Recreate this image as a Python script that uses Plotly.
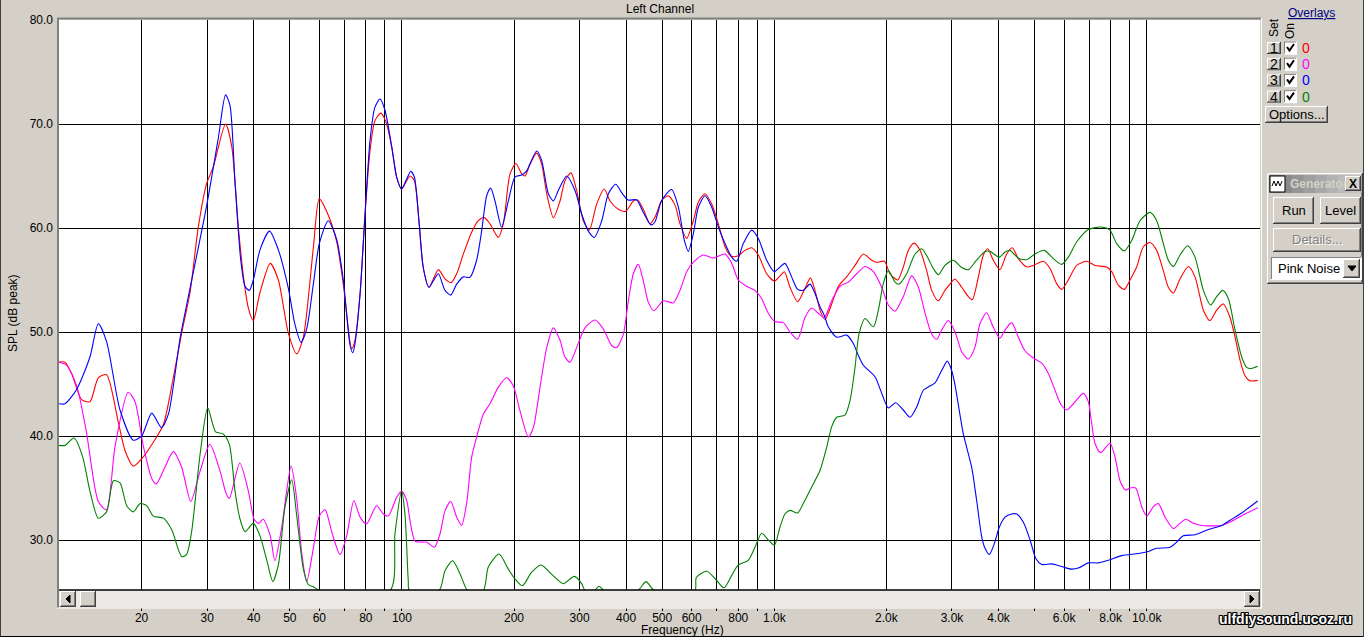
import math
import plotly.graph_objects as go

# ---- overlay curves (frequency in Hz, SPL in dB) ----
FLOOR = 25.15  # curves are clipped at the bottom of the graph

red_freq = [12.0, 12.45, 12.98, 13.8, 14.53, 15.3, 16.1, 17.32, 18.05, 19.0,
            20.0, 21.5, 22.88, 24.33, 25.62, 26.98, 28.4, 29.85, 31.16, 33.6,
            34.9, 36.37, 37.52, 38.7, 39.9, 41.58, 44.3, 46.58, 49.55, 52.2,
            54.37, 57.83, 60.0, 63.4, 66.8, 69.6, 73.3,
            74.8, 77.2, 79.6, 82.1, 84.6, 87.7, 90.4, 93.9, 96.8, 99.8,
            105.1, 108.0, 111.1, 114.1, 118.2, 125.3, 130.5, 135.5, 140.3, 146.2,
            153.9, 160.4, 166.4, 172.4, 181.5, 187.2, 195.1, 202.4, 209.7, 214.1,
            220.8, 230.1, 237.3, 244.8, 255.1, 265.8, 274.1, 284.5, 294.6, 307.0,
            318.6, 333.4, 349.5, 362.0, 381.1, 398.9, 418.2, 429.5, 444.9, 463.7,
            478.3, 498.4, 519, 541.2, 558.1, 581.6, 606.1, 625.2, 651.6, 679.0,
            707.6, 737.4, 765.2, 797, 834.2, 869.6, 905.8, 953.8, 1000, 1036,
            1064, 1102, 1155, 1209, 1250, 1286, 1327, 1368, 1426, 1486,
            1564, 1647, 1734, 1826, 1883, 1975, 2045, 2144, 2220, 2290,
            2372, 2462, 2565, 2646, 2756, 2872, 2994,
            3057, 3186, 3319, 3402, 3531, 3642, 3740, 3873, 4036, 4207,
            4357, 4522, 4761, 4961, 5278, 5500, 5731, 5909, 6158, 6484,
            6899, 7262, 7807, 8052, 8390, 8708, 9018, 9397, 9793, 10205,
            10635, 11082, 11430, 11790, 12285, 12940, 13480, 14195, 14790, 15410,
            16060, 16740, 17265, 17807, 18360, 18945, 19860]
red_db = [47.1, 47.1, 46.0, 43.5, 43.3, 45.6, 45.9, 41.3, 38.6, 37.1,
          37.8, 39.4, 41.1, 45.6, 49.9, 53.8, 60.1, 64.2, 65.9, 70.0,
          67.9, 60.1, 55.4, 52.3, 51.1, 53.8, 56.6, 55.0, 49.9, 47.9,
          49.5, 58.1, 62.8, 61.25, 58.7, 54.6, 48.4,
          49.2, 53.65, 61.3, 67.4, 70.3, 71.05, 70.3, 67.8, 64.9, 63.75,
          65.0, 64.55, 60.7, 56.2, 54.3, 56.0, 55.1, 54.75, 55.6, 57.5,
          59.6, 60.7, 61.0, 60.4, 59.1, 60.4, 65.2, 66.2, 65.2, 65.0,
          66.15, 67.2, 66.15, 63.3, 61.0, 62.6, 64.55, 65.3, 63.6, 60.7,
          59.8, 62.3, 63.75, 62.6, 61.8, 61.6, 62.6, 62.7, 61.8, 60.4,
          61.05, 62.65, 63.1, 62.2, 60.4, 59.0, 60.7, 62.5, 63.3, 62.3,
          60.4, 58.2, 57.3, 57.3, 57.85, 58.1, 57.4, 55.6, 54.9, 55.4,
          55.8, 54.3, 52.9, 54.2, 55.2, 54.0, 52.1, 51.2, 52.7, 54.4,
          55.3, 56.4, 57.5, 56.9, 56.7, 56.8, 55.6, 55.0, 56.25, 57.85,
          58.55, 57.85, 55.9, 54.0, 53.0, 54.0, 54.8,
          55.1, 54.3, 53.4, 53.1, 55.3, 57.4, 58.0, 56.9, 56.0, 57.5,
          58.1, 57.05, 56.25, 56.4, 56.8, 56.1, 54.65, 54.1, 55.0, 56.4,
          56.8, 56.4, 56.25, 55.8, 54.5, 54.1, 55.0, 56.25, 58.2, 58.6,
          57.85, 55.9, 54.3, 53.75, 55.1, 56.3, 55.3, 52.1, 51.1, 52.1,
          52.7, 51.4, 49.5, 47.3, 45.8, 45.3, 45.35]

magenta_freq = [12.0, 12.59, 13.39, 14.2, 15.3, 16.1, 16.97, 18.4, 19.2, 20.22,
                21.3, 21.9, 23.1, 24.33, 25.62, 27.1, 28.7, 30.5, 32.5, 33.7,
                34.4, 36.7, 38.7, 40.1, 41.2, 42.4, 44.3, 45.6, 47.5, 50.4,
                52.2, 53.8, 55.5, 57.83, 60.0, 62.2, 64.78, 68.2, 71.07, 74.3,
                77.2, 80.4, 85.5, 89.2, 91.9, 96.8, 99.8, 103.0, 105.1, 108.4,
                113, 116.5, 122.2, 126.6, 130.5, 135.2, 140.3, 144.6, 149.2, 153.9,
                158.7, 165.4, 172.4, 181.5, 191.1, 199.2, 207.6, 218.6, 225.4, 234.9,
                244.8, 255.1, 265.8, 274.1, 282.7, 294.6, 310.2, 330, 347.3, 365.8,
                377.3, 393.2, 405.5, 418.2, 431.3, 444.9, 458.9, 475.2,
                503.5, 535.6, 558.1, 581.6, 606.1, 644.9, 685.9, 737, 768.4, 800.6,
                842.8, 887.4, 924.7, 963.6, 1004, 1057, 1102, 1155, 1209, 1260,
                1313, 1362, 1426, 1501, 1580, 1664, 1752, 1845, 1943, 2024,
                2109, 2220, 2338, 2437, 2540, 2646, 2729, 2814, 2934,
                3057, 3186, 3319, 3458, 3566, 3717, 3873, 4036, 4165, 4339,
                4522, 4712, 4961, 5224, 5443, 5672, 5888, 6097, 6353, 6759,
                6969, 7116, 7262, 7521, 7969, 8218, 8478, 8780, 9018, 9340,
                9694, 10000, 10420, 10750, 11200, 11790, 12285, 12725, 13340, 14050,
                15890, 16910, 18360, 19860]
magenta_db = [47.1, 46.8, 44.8, 40.5, 33.7, 32.9, 39.0, 44.2, 43.3, 39.0,
              35.9, 35.4, 37.0, 38.5, 37.0, 33.7, 36.6, 39.2, 36.6, 34.5,
              34.0, 37.4, 34.7, 32.0, 31.6, 32.0, 30.4, 28.0, 31.1, 37.1,
              33.9, 28.8, 26.0, 29.2, 32.3, 32.9, 30.8, 28.6, 30.4, 33.8,
              32.2, 31.55, 33.3, 32.5, 32.3, 34.1, 34.7, 33.8, 31.9, 29.9,
              29.8, 29.8, 29.3, 30.6, 32.8, 33.7, 32.2, 31.4, 33.5, 37.95,
              39.9, 42.1, 43.1, 44.7, 45.6, 44.8, 42.4, 39.9, 40.8, 44.7,
              48.5, 50.4, 49.2, 47.6, 47.1, 48.5, 50.4, 51.15, 50.3, 48.7,
              48.5, 49.8, 53.0, 55.6, 56.5, 54.9, 52.85, 52.05,
              53.0, 52.8, 54.0, 55.8, 56.7, 57.4, 57.1, 57.5, 56.6, 55.0,
              54.4, 54.0, 53.2, 51.8, 51.0, 50.9, 50.0, 49.3, 51.4, 52.3,
              51.8, 51.4, 53.0, 54.4, 54.8, 55.6, 56.3, 55.8, 54.3, 52.6,
              52.0, 53.4, 55.4, 54.3, 51.8, 49.8, 49.3, 50.2, 51.1,
              50.0, 48.1, 47.4, 48.55, 50.8, 51.85, 50.45, 49.4, 50.2, 50.9,
              49.5, 48.2, 47.5, 47.0, 46.0, 44.4, 43.0, 42.5, 43.1, 44.1,
              43.3, 41.2, 39.3, 38.4, 39.3, 38.0, 35.7, 34.8, 35.0, 35.0,
              33.2, 32.3, 33.2, 33.5, 32.2, 31.1, 31.6, 32.0, 31.6, 31.4,
              31.4, 31.8, 32.5, 33.1]

blue_freq = [12.0, 12.45, 13.39, 14.53, 15.3, 16.1, 17.5, 19.0, 20.0, 21.3, 22.6,
             23.6, 25.4, 26.98, 29.85, 32.15, 33.6, 34.54, 35.63, 36.9, 37.91,
             38.94, 39.9, 41.58, 44.1, 46.58, 49.55, 51.63, 53.6, 55.5, 57.83,
             60.0, 63.4, 66.8, 69.6, 72.55, 73.8,
             74.8, 77.2, 79.6, 82.1, 84.6, 87.3, 90.1, 93.9, 96.8, 99.8,
             103.0, 105.6, 108.0, 111.1, 114.1, 118.2, 121.4, 125.3, 130.5, 135.2,
             140.3, 146.2, 152.3, 158.7, 163.7, 168.9, 173.1, 177.8, 185.2, 193.1,
             201.2, 209.7, 216.3, 230.1, 237.3, 247.3, 255.1, 263.0, 277, 291.6,
             303.9, 316.7, 328.6, 344.0, 358.4, 375, 389.1, 405, 427.0, 444.9,
             466.6,
             478.3, 498.4, 530, 552.5, 573.4, 587.6, 606.1, 625.2, 651.6, 679.0,
             707.6, 737.4, 768.4, 792.4, 825.6, 869.6, 905.8, 953.8, 1000, 1025,
             1068, 1113, 1155, 1196, 1247, 1286, 1327, 1362, 1396, 1471,
             1564, 1630, 1681, 1734, 1864, 1943, 2024, 2117, 2220, 2314,
             2412, 2513, 2618, 2701, 2814, 2915, 2994,
             3057, 3218, 3388, 3494, 3605, 3680, 3779, 3897, 4021, 4165,
             4339, 4476, 4664, 4861, 5042, 5224, 5558, 5909, 6262, 6551,
             6969, 7416, 7887, 8566, 9496, 10100, 10635, 11548, 12033, 12539,
             13480, 14640, 15900, 16740, 17990, 19860]
blue_db = [43.1, 43.1, 44.5, 47.6, 50.8, 49.1, 42.5, 39.6, 40.0, 42.2, 40.8,
           42.1, 49.5, 54.2, 62.0, 68.7, 72.8, 71.8, 64.4, 57.0, 54.4,
           54.0, 55.0, 57.9, 59.7, 57.9, 54.2, 50.7, 49.0, 50.3, 54.6,
           58.5, 60.7, 58.9, 55.0, 48.75, 48.0,
           48.85, 53.65, 61.3, 68.4, 71.6, 72.4, 71.3, 67.8, 64.9, 63.75,
           64.7, 65.45, 64.9, 60.7, 56.2, 54.3, 54.9, 55.6, 54.0, 53.55,
           54.6, 55.3, 55.25, 56.9, 59.7, 63.1, 63.85, 62.6, 60.1, 62.6,
           64.9, 65.1, 65.5, 67.4, 66.5, 63.3, 62.6, 63.6, 65.0, 63.6,
           61.35, 59.7, 59.1, 60.7, 63.3, 64.2, 63.4, 62.7, 62.7, 61.5,
           60.3,
           60.6, 62.65, 63.7, 62.0, 58.8, 57.75, 59.45, 62.0, 63.1, 62.0,
           60.1, 58.5, 57.2, 56.8, 58.5, 59.8, 59.0, 56.9, 55.8, 56.1,
           56.6, 55.3, 54.1, 54.0, 54.6, 53.7, 52.4, 51.6, 50.5, 49.5,
           49.7, 48.9, 47.75, 46.8, 45.7, 44.1, 42.7, 43.2, 42.5, 41.8,
           42.8, 44.4, 44.8, 45.1, 46.3, 47.2, 46.3,
           44.9, 40.2, 37.0, 33.8, 30.3, 29.2, 28.6, 29.65, 31.25, 32.2,
           32.5, 32.5, 31.7, 30.0, 28.2, 27.65, 27.7, 27.45, 27.2, 27.3,
           27.8, 27.8, 28.05, 28.5, 28.7, 28.9, 29.2, 29.3, 29.8, 30.4,
           30.5, 31.0, 31.4, 31.9, 32.6, 33.75]

green_freq = [12.0, 12.45, 13.17, 13.89, 14.53, 15.3, 16.1, 16.8, 17.5, 18.24,
              19.0, 19.81, 20.63, 21.5, 22.88, 24.08, 25.62, 26.4, 27.25, 28.7,
              30.1, 31.6, 33.1, 34.4, 35.63, 36.7, 37.91, 39.9, 41.58, 43.4,
              45.0, 46.58, 48.5, 50.6, 52.2, 54.37, 56.1, 57.83, 59.0, 60.0,
              92.9, 95.8, 99.8, 101.9, 104.0, 104.7, 125.8, 130.5, 136.9, 144.6,
              150.1, 165.4, 170.6, 182.3, 193.1, 201.2, 210.6, 223.1, 236.4, 252.5,
              271.2, 290.4, 303.9, 310.2, 328.6, 338.2, 349.5, 429.5, 452.4, 476.2,
              612, 617.2, 658, 693, 732.6, 768.4, 800.6, 851.5, 887.4, 924.7,
              963.6, 1000, 1036, 1068, 1102, 1155, 1196, 1260, 1327, 1382,
              1426, 1471, 1548, 1597, 1647, 1688, 1752, 1845, 1903, 1962,
              2024, 2109, 2161, 2267, 2387, 2487, 2592, 2673, 2756, 2872,
              3012,
              3057, 3186, 3319, 3494, 3680, 3795, 4021, 4165, 4295, 4522,
              4761, 5012, 5311, 5615, 5909, 6158, 6484, 6969, 7568, 7969,
              8305, 8708, 9112, 9594, 10205, 10635, 11082, 11430, 11790, 12285,
              12880, 13480, 14195, 14850, 15410, 16000, 16570, 17265, 17990, 18550,
              19130, 19860]
green_db = [39.1, 39.1, 39.8, 38.0, 34.7, 32.1, 32.7, 35.7, 35.5, 33.3,
            32.7, 33.5, 33.3, 32.3, 32.1, 31.0, 28.4, 28.6, 30.8, 38.2,
            42.7, 40.4, 40.2, 39.2, 34.7, 32.1, 30.8, 31.6, 30.4, 28.0,
            26.0, 27.6, 33.1, 35.8, 32.3, 27.2, 25.7, 25.5, 25.3, FLOOR,
            FLOOR, 30.6, 34.7, 32.5, 26.1, FLOOR, FLOOR, 27.05, 28.0, 26.4,
            FLOOR, FLOOR, 27.4, 28.65, 27.2, 26.25, 25.6, 26.9, 27.6, 26.7,
            25.8, 26.5, 25.8, FLOOR, FLOOR, 25.55, FLOOR, FLOOR, 26.0, FLOOR,
            FLOOR, 26.4, 27.0, 26.3, 25.4, 26.6, 27.6, 28.05, 29.3, 30.65,
            30.0, 29.5, 31.25, 32.5, 32.85, 32.6, 33.5, 35.1, 36.7, 38.9,
            40.9, 41.8, 42.0, 43.4, 46.6, 49.8, 51.3, 50.5, 52.1, 54.65,
            55.9, 54.8, 54.6, 55.6, 57.5, 58.0, 57.05, 56.1, 55.5, 56.4,
            56.9,
            56.8, 56.2, 56.0, 56.9, 57.75, 57.75, 57.2, 57.7, 57.85, 57.1,
            56.95, 57.5, 57.85, 57.05, 56.5, 57.2, 58.65, 59.85, 60.1, 59.8,
            58.5, 57.8, 58.8, 60.7, 61.5, 60.7, 58.5, 56.9, 56.3, 57.4,
            58.3, 57.2, 54.0, 52.6, 53.4, 54.0, 53.2, 50.2, 47.6, 46.6,
            46.5, 46.7]

grid_freqs = [20, 30, 40, 50, 60, 70, 80, 90, 100, 200, 300, 400, 500, 600, 700,
              800, 900, 1000, 2000, 3000, 4000, 5000, 6000, 7000, 8000, 9000, 10000]
grid_labels = ["20", "30", "40", "50", "60", "", "80", "", "100", "200", "300", "400",
               "500", "600", "", "800", "", "1.0k", "2.0k", "3.0k", "4.0k", "",
               "6.0k", "", "8.0k", "", "10.0k"]
db_ticks = [30, 40, 50, 60, 70, 80]
db_labels = ["30.0", "40.0", "50.0", "60.0", "70.0", "80.0"]

series = [("1", red_freq, red_db, "#FF0000"),
          ("2", magenta_freq, magenta_db, "#FF00FF"),
          ("3", blue_freq, blue_db, "#0000FF"),
          ("4", green_freq, green_db, "#008000")]
for name, f, d, c in series:
    assert len(f) == len(d), (name, len(f), len(d))

FONT = "Liberation Sans, Arial, sans-serif"
FACE = "#D4D0C8"

# window-pixel helpers: the graph area spans x 59..1260 and y 20..607
L, R, T, B = 59, 1260, 20, 607
W, H = R - L, B - T


def X(p):
    return (p - L) / W


def Y(p):
    return (B - p) / H


shapes = []
annotations = []


def rect(x0, y0, x1, y1, fill, line=None, layer="above"):
    shapes.append(dict(type="rect", xref="paper", yref="paper",
                       x0=X(x0), x1=X(x1), y0=Y(y1), y1=Y(y0), layer=layer,
                       fillcolor=fill,
                       line=dict(width=0) if line is None else dict(color=line, width=1)))


def seg(x0, y0, x1, y1, color, width=1):
    shapes.append(dict(type="line", xref="paper", yref="paper",
                       x0=X(x0), x1=X(x1), y0=Y(y0), y1=Y(y1), layer="above",
                       line=dict(color=color, width=width)))


def path(points, color, width=1, fill=None):
    d = "M " + " L ".join(f"{X(a):.5f},{Y(b):.5f}" for a, b in points)
    if fill:
        d += " Z"
    shapes.append(dict(type="path", xref="paper", yref="paper", path=d, layer="above",
                       line=dict(color=color, width=width),
                       fillcolor=fill if fill else "rgba(0,0,0,0)"))


def raised(x0, y0, x1, y1):
    rect(x0, y0, x1, y1, FACE)
    seg(x0, y0 + 0.5, x1, y0 + 0.5, "white")
    seg(x0 + 0.5, y0, x0 + 0.5, y1, "white")
    seg(x0, y1 - 0.5, x1, y1 - 0.5, "#404040")
    seg(x1 - 0.5, y0, x1 - 0.5, y1, "#404040")
    seg(x0 + 1, y1 - 1.5, x1 - 1, y1 - 1.5, "#808080")
    seg(x1 - 1.5, y0 + 1, x1 - 1.5, y1 - 1, "#808080")


def sunken(x0, y0, x1, y1, fill="white"):
    rect(x0, y0, x1, y1, fill)
    seg(x0, y0 + 0.5, x1, y0 + 0.5, "#808080")
    seg(x0 + 0.5, y0, x0 + 0.5, y1, "#808080")
    seg(x0, y1 - 0.5, x1, y1 - 0.5, "white")
    seg(x1 - 0.5, y0, x1 - 0.5, y1, "white")


def text(x, y, s, size=12, color="black", xanchor="center", angle=0, bold=False, shadow=None):
    fnt = dict(family=FONT, size=size, color=color)
    if bold:
        fnt["weight"] = "bold"
    if shadow:
        fnt["shadow"] = shadow
    annotations.append(dict(x=X(x), y=Y(y), xref="paper", yref="paper", text=s,
                            showarrow=False, xanchor=xanchor, yanchor="middle",
                            textangle=angle, font=fnt))


fig = go.Figure()
for name, f, d, c in series:
    fig.add_trace(go.Scatter(x=f, y=d, mode="lines", name=name, hoverinfo="skip",
                             line=dict(color=c, width=1.1, shape="spline", smoothing=0.7)))

# graph frame
seg(L - 2, T - 1.5, R + 1, T - 1.5, "#808080", 2)
seg(L - 1, T - 2, L - 1, B + 1, "#808080", 2)
seg(R + 1.5, T - 2, R + 1.5, B + 1.5, "white", 1)
seg(L - 2, B + 1, R + 2, B + 1, "white", 1)

# scrollbar along the bottom of the graph
rect(L, 590, R, B, "#ECEAE6")
seg(L, 590, R, 590, "black", 1.5)
raised(L + 1, 591, L + 17, B)
path([(L + 11, 595), (L + 11, 603), (L + 7, 599)], "black", 1, "black")
raised(L + 21, 591, L + 37, B)
raised(R - 16, 591, R, B)
path([(R - 10, 595), (R - 10, 603), (R - 6, 599)], "black", 1, "black")

# window border
seg(0.5, 0, 0.5, 637, "#404040")
seg(0, 636.5, 1364, 636.5, "black")
seg(1363.5, 0, 1363.5, 637, "#404040")

# titles
text(660, 9, "Left Channel")
text(682, 630, "Frequency (Hz)")
text(13, 313, "SPL (dB peak)", angle=-90)

# overlays panel
text(1311, 13, "<u>Overlays</u>", color="#000080")
text(1274, 28, "Set", angle=-90)
text(1290, 31, "On", angle=-90)
for i, (name, f, d, c) in enumerate(series):
    yc = 48 + 16.2 * i
    raised(1267, yc - 6, 1281, yc + 6)
    text(1274, yc, name, size=14)
    sunken(1284, yc - 6.5, 1297, yc + 6.5)
    path([(1287, yc - 1), (1289.5, yc + 2.5), (1294, yc - 4)], "black", 2)
    text(1306, yc, "0", size=14, color=c)
raised(1265, 106, 1328, 123)
text(1296.5, 114.5, "Options...", size=13)

# generator panel
raised(1267, 173, 1363, 284)
steps = ["#808080", "#8A8A8A", "#949494", "#9E9E9E", "#A8A8A8", "#B2B2B2", "#BCBCBC", "#C4C4C4"]
bx0, bx1 = 1269, 1361
for k, col in enumerate(steps):
    rect(bx0 + (bx1 - bx0) * k / len(steps), 175, bx0 + (bx1 - bx0) * (k + 1) / len(steps) + 0.5, 193, col)
rect(1270, 176, 1285, 192, "white", "black")
path([(1272, 186), (1274, 181), (1276, 186), (1278, 181), (1280, 186), (1282, 181)], "black", 1)
text(1288, 184, "Generator", color=FACE, xanchor="left", bold=True)
raised(1345, 176, 1361, 191)
text(1353, 183.5, "X", bold=True)
raised(1273, 197, 1314, 224)
text(1293.5, 210.5, "Run", size=13)
raised(1320, 197, 1361, 224)
text(1340.5, 210.5, "Level", size=13)
raised(1273, 228, 1361, 252)
text(1317, 240, "Details...", size=13, color="#808080", shadow="1px 1px 0px #FFFFFF")
sunken(1271, 257, 1362, 280)
rect(1273, 259, 1360, 278, "white")
text(1276, 268.5, "Pink Noise", size=13, xanchor="left")
raised(1343, 259, 1360, 278)
path([(1348, 266), (1356, 266), (1352, 271)], "black", 1, "black")

# site watermark
text(1354, 619, "ulfdiysound.ucoz.ru", size=14, color="white", xanchor="right", bold=True,
     shadow="1px 0 0 #000, -1px 0 0 #000, 0 1px 0 #000, 0 -1px 0 #000, "
            "1px 1px 0 #000, -1px -1px 0 #000, 1px -1px 0 #000, -1px 1px 0 #000")

x_lo = math.log10(12.0)
fig.update_layout(
    width=1364, height=637,
    margin=dict(l=L, r=1364 - R, t=T, b=637 - B, pad=0, autoexpand=False),
    paper_bgcolor=FACE, plot_bgcolor="white",
    showlegend=False, hovermode=False,
    font=dict(family=FONT, size=12, color="black"),
    shapes=shapes, annotations=annotations,
    xaxis=dict(type="log", range=[x_lo, x_lo + W / 372.4],
               tickmode="array", tickvals=grid_freqs, ticktext=grid_labels,
               showgrid=True, gridcolor="black", gridwidth=1,
               ticks="outside", ticklen=3, tickcolor="black", tickwidth=1,
               ticklabelstandoff=-3, automargin=False,
               zeroline=False, showline=False, fixedrange=True,
               tickfont=dict(family=FONT, size=12, color="black")),
    yaxis=dict(range=[80 - H / 10.4, 80],
               tickmode="array", tickvals=db_ticks, ticktext=db_labels,
               showgrid=True, gridcolor="black", gridwidth=1,
               ticks="", ticklabelstandoff=5, automargin=False,
               zeroline=False, showline=False, fixedrange=True,
               tickfont=dict(family=FONT, size=12, color="black")),
)

# the page's default body margin would push the figure 8px down and right
fig.write_html("out.html", config={"displayModeBar": False},
               post_script="document.body.style.margin='0';document.body.style.overflow='hidden';")
